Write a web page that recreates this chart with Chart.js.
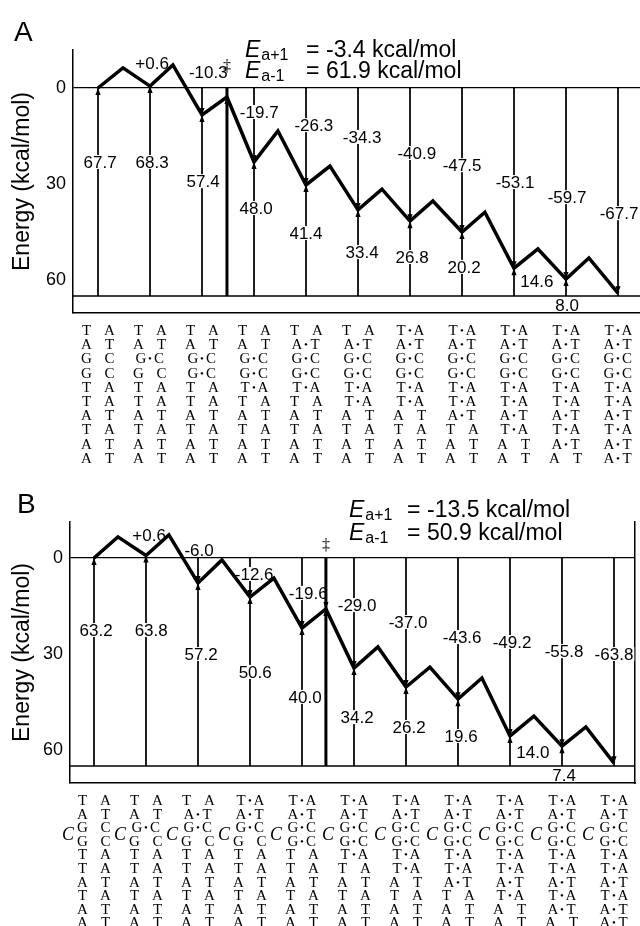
<!DOCTYPE html>
<html>
<head>
<meta charset="utf-8">
<title>Energy profiles A and B</title>
<script src="https://cdn.jsdelivr.net/npm/chart.js@4.4.1/dist/chart.umd.min.js"></script>
<style>
  html, body { margin: 0; padding: 0; background: #fff; }
  canvas { display: block; }
</style>
</head>
<body>
<canvas id="panelA" width="640" height="470"></canvas>
<canvas id="panelB" width="640" height="456"></canvas>
<script>
// energies in kcal/mol; states sit on whole numbers, barriers in between
const energyTicks = [0, -30, -60];

// panel A
const pathXA = [0, 0.48, 1, 1.44, 2, 2.48, 3, 3.46, 4, 4.46, 5, 5.46, 6, 6.44, 7, 7.44, 8, 8.46, 9, 9.44, 10];
const pathYA = [0, 6.3, 0.6, 7.2, -8.4, -2.8, -23.1, -13.4, -30.3, -24.4, -38.1, -31.6, -41.6, -35.3, -45.0, -38.8, -56.3, -50.3, -59.7, -53.1, -64.1];
const tsXA = 2.48;
const baseA = -65;
const topTextA = ['+0.6', '-10.3', '-19.7', '-26.3', '-34.3', '-40.9', '-47.5', '-53.1', '-59.7', '-67.7'];
const gapTextA = ['67.7', '68.3', '57.4', '48.0', '41.4', '33.4', '26.8', '20.2', '14.6', '8.0'];
const rateTextA = ['-3.4', '61.9'];

// panel B
const pathXB = [0, 0.46, 1, 1.44, 2, 2.46, 3, 3.46, 4, 4.46, 5, 5.46, 6, 6.46, 7, 7.46, 8, 8.46, 9, 9.46, 10];
const pathYB = [0, 6.6, 0.8, 7.2, -7.8, -0.6, -12.2, -6.3, -21.9, -15.9, -34.4, -27.8, -40.3, -34.1, -44.1, -37.5, -55.6, -49.4, -58.8, -52.8, -64.1];
const tsXB = 4.46;
const baseB = -65;
const topTextB = ['+0.6', '-6.0', '-12.6', '-19.6', '-29.0', '-37.0', '-43.6', '-49.2', '-55.8', '-63.8'];
const gapTextB = ['63.2', '63.8', '57.2', '50.6', '40.0', '34.2', '26.2', '19.6', '14.0', '7.4'];
const rateTextB = ['-13.5', '50.9'];

// duplex rows, top to bottom, and the first column where each row is paired
const strandLeft = ['T', 'A', 'G', 'G', 'T', 'T', 'A', 'T', 'A', 'A'];
const strandRight = ['A', 'T', 'C', 'C', 'A', 'A', 'T', 'A', 'T', 'T'];
const pairedFromA = [6, 4, 1, 2, 3, 5, 7, 8, 9, 10];
const pairedFromB = [3, 2, 1, 4, 5, 6, 7, 8, 9, 10];

// label anchors (axis units)
const topPosA = { x: [1.04, 2.12, 3.10, 4.15, 5.08, 6.13, 7.00, 8.02, 9.02, 10.02], y: [7.8, 5.0, -7.5, -11.6, -15.3, -20.3, -24.1, -29.4, -34.1, -39.1] };
const gapPosA = { x: [0.04, 1.04, 2.02, 3.04, 4.0, 5.08, 6.04, 7.04, 8.44, 9.02], y: [-23.1, -23.1, -29.1, -37.5, -45.3, -51.25, -52.8, -55.9, -60.3, -67.8] };
const topPosB = { x: [1.06, 2.02, 3.08, 4.12, 5.06, 6.04, 7.08, 8.04, 9.04, 10.0], y: [7.2, 2.5, -5.0, -10.9, -14.7, -20.0, -24.7, -26.25, -29.1, -30.0] };
const gapPosB = { x: [0.04, 1.1, 2.06, 3.1, 4.06, 5.06, 6.06, 7.06, 8.44, 9.04], y: [-22.5, -22.5, -30, -35.6, -43.4, -49.7, -52.8, -55.6, -60.6, -67.8] };

const sans = '"Liberation Sans", Arial, Helvetica, sans-serif';
const serif = '"Liberation Serif", "Times New Roman", serif';
Chart.defaults.font.family = sans;
Chart.defaults.color = '#000';

function labelSpots(chart, d) {
  const xs = chart.scales.x, ys = chart.scales.y;
  const zero = ys.getPixelForValue(0);
  const spots = [];
  d.topText.forEach((t, i) => spots.push({ t, x: xs.getPixelForValue(d.topPos.x[i]), y: ys.getPixelForValue(d.topPos.y[i]) }));
  d.gapText.forEach((t, i) => spots.push({ t, x: xs.getPixelForValue(d.gapPos.x[i]), y: ys.getPixelForValue(d.gapPos.y[i]) }));
  spots.forEach(s => { s.bg = s.y > zero + 6; });
  return spots;
}

function drawRate(ctx, r, line, sub, val) {
  const y = r.base[line];
  ctx.textAlign = 'left';
  ctx.textBaseline = 'alphabetic';
  ctx.font = 'italic 23px ' + sans;
  ctx.fillText('E', r.eLeft, y);
  const ew = ctx.measureText('E').width;
  ctx.font = '16px ' + sans;
  ctx.fillText(sub, r.eLeft + ew + 1, y + 3);
  ctx.font = '23px ' + sans;
  ctx.fillText('=', r.eqLeft, y);
  ctx.fillText(val + ' kcal/mol', r.valLeft, y);
}

function panelPlugin(d) {
  return {
    id: 'panel' + d.letter,
    beforeDatasetDraw(chart, args) {
      // white gaps in the vertical lines, under the thick lines
      if (args.index !== 1) return;
      const ctx = chart.ctx;
      ctx.save();
      ctx.font = '17px ' + sans;
      ctx.fillStyle = '#fff';
      labelSpots(chart, d).forEach(s => {
        if (!s.bg) return;
        const w = ctx.measureText(s.t).width;
        ctx.fillRect(s.x - w / 2 - 1, s.y - 7, w + 2, 14);
      });
      ctx.restore();
    },
    afterDatasetsDraw(chart) {
      const ctx = chart.ctx;
      const xs = chart.scales.x, ys = chart.scales.y;
      const zero = ys.getPixelForValue(0);
      const base = ys.getPixelForValue(d.base);
      ctx.save();
      ctx.fillStyle = '#000';
      // arrowheads at each state
      d.pathX.forEach((x, i) => {
        if (!Number.isInteger(x) && x !== d.tsX) return;
        const px = xs.getPixelForValue(x), py = ys.getPixelForValue(d.pathY[i]);
        ctx.beginPath();
        if (base - py > 10) {
          ctx.moveTo(px, py); ctx.lineTo(px - 2.6, py + 7); ctx.lineTo(px + 2.6, py + 7); ctx.closePath();
        }
        if (py - zero > 10) {
          ctx.moveTo(px, py); ctx.lineTo(px - 2.6, py - 7); ctx.lineTo(px + 2.6, py - 7); ctx.closePath();
        }
        ctx.fill();
      });
      // energy labels
      ctx.font = '17px ' + sans;
      ctx.textAlign = 'center';
      ctx.textBaseline = 'alphabetic';
      labelSpots(chart, d).forEach(s => ctx.fillText(s.t, s.x, s.y + 6));
      ctx.restore();
    },
    afterDraw(chart) {
      const ctx = chart.ctx;
      const xs = chart.scales.x, ys = chart.scales.y;
      const area = chart.chartArea;
      ctx.save();
      ctx.fillStyle = '#000';
      // panel letter
      ctx.font = '28px ' + sans;
      ctx.textAlign = 'left';
      ctx.textBaseline = 'alphabetic';
      ctx.fillText(d.letter, d.letterPos[0], d.letterPos[1]);
      // rate constants
      drawRate(ctx, d.rate, 0, 'a+1', d.rateText[0]);
      drawRate(ctx, d.rate, 1, 'a-1', d.rateText[1]);
      // transition state mark
      ctx.font = '16px ' + serif;
      ctx.textAlign = 'center';
      ctx.textBaseline = 'middle';
      ctx.fillText('\u2021', xs.getPixelForValue(d.tsX), ys.getPixelForValue(0) - d.tsMarkRise);
      // duplex under every state
      ctx.textBaseline = 'alphabetic';
      const row0 = area.bottom + 17;
      for (let c = 0; c <= 10; c++) {
        const cx = xs.getPixelForValue(c);
        for (let r = 0; r < strandLeft.length; r++) {
          const y = row0 + r * d.rowGap + 5;
          const paired = c >= d.pairedFrom[r];
          const off = paired ? 9 : 11.5;
          ctx.font = '15px ' + serif;
          ctx.fillText(strandLeft[r], cx - off, y);
          ctx.fillText(strandRight[r], cx + off, y);
          if (paired) {
            ctx.font = '11px ' + serif;
            ctx.fillText('\u2022', cx, y - 1);
          }
        }
        if (d.crossLink) {
          ctx.font = 'italic 18px ' + serif;
          ctx.fillText('C', cx - 26, row0 + 2.5 * d.rowGap + 6);
        }
      }
      ctx.restore();
    }
  };
}

function drawPanel(id, d) {
  const verticals = [];
  for (let i = 0; i <= 10; i++) {
    verticals.push({ x: i, y: 0 }, { x: i, y: d.base }, { x: i + 0.5, y: null });
  }
  const scales = {
    x: {
      type: 'linear', min: d.xMin, max: d.xMax,
      ticks: { display: false },
      grid: { display: false, drawTicks: false },
      border: { display: true, color: '#000', width: 1.5 },
      afterFit: s => { s.height = 0; }
    },
    y: {
      type: 'linear', min: d.yMin, max: d.yMax,
      afterBuildTicks: s => { s.ticks = energyTicks.map(v => ({ value: v })); },
      ticks: { callback: v => String(Math.abs(v)), font: { size: 18 }, padding: 7, color: '#000' },
      grid: {
        drawTicks: false, lineWidth: 1.3,
        color: c => (c.tick && c.tick.value === 0 ? '#000' : 'rgba(0,0,0,0)')
      },
      border: { color: '#000', width: 1.5 },
      title: { display: true, text: 'Energy (kcal/mol)', font: { size: 23 }, color: '#000', padding: { top: 9, bottom: 0 } },
      afterFit: s => { s.width = d.axisWidth; }
    }
  };
  if (d.rightFrame) {
    scales.yR = {
      type: 'linear', position: 'right', display: true,
      ticks: { display: false },
      grid: { display: false, drawTicks: false },
      border: { color: '#000', width: 1.5 },
      afterFit: s => { s.width = 0; }
    };
  }
  return new Chart(document.getElementById(id), {
    type: 'line',
    data: {
      datasets: [
        { data: d.pathX.map((x, i) => ({ x, y: d.pathY[i] })), borderColor: '#000', borderWidth: 3.5, pointRadius: 0, borderJoinStyle: 'miter', order: 0 },
        { data: [{ x: d.tsX, y: 0 }, { x: d.tsX, y: d.base }], borderColor: '#000', borderWidth: 3, pointRadius: 0, order: 1 },
        { data: [{ x: d.xMin, y: d.base }, { x: d.xMax, y: d.base }], borderColor: '#000', borderWidth: 1.5, pointRadius: 0, order: 2 },
        { data: verticals, borderColor: '#000', borderWidth: 1, pointRadius: 0, spanGaps: false, order: 3 }
      ]
    },
    options: {
      responsive: false,
      animation: false,
      events: [],
      layout: { padding: { top: d.padTop, bottom: d.padBottom, left: 0, right: d.padRight } },
      plugins: { legend: { display: false }, tooltip: { enabled: false } },
      scales
    },
    plugins: [panelPlugin(d)]
  });
}

drawPanel('panelA', {
  letter: 'A', letterPos: [14, 41],
  pathX: pathXA, pathY: pathYA, tsX: tsXA, base: baseA,
  topText: topTextA, gapText: gapTextA, topPos: topPosA, gapPos: gapPosA,
  rateText: rateTextA, rate: { eLeft: 245, eqLeft: 306, valLeft: 326, base: [57, 78] },
  pairedFrom: pairedFromA, rowGap: 14.2, crossLink: false,
  xMin: -0.481, xMax: 10.423, yMin: -70.3, yMax: 11.875,
  axisWidth: 73, padTop: 50, padBottom: 157, padRight: 0, rightFrame: false, tsMarkRise: 21
});

drawPanel('panelB', {
  letter: 'B', letterPos: [17, 43],
  pathX: pathXB, pathY: pathYB, tsX: tsXB, base: baseB,
  topText: topTextB, gapText: gapTextB, topPos: topPosB, gapPos: gapPosB,
  rateText: rateTextB, rate: { eLeft: 349, eqLeft: 407, valLeft: 427, base: [47, 70] },
  pairedFrom: pairedFromB, rowGap: 13.6, crossLink: true,
  xMin: -0.4615, xMax: 10.404, yMin: -70.3, yMax: 11.25,
  axisWidth: 70, padTop: 52, padBottom: 143, padRight: 5, rightFrame: true, tsMarkRise: 12
});
</script>
</body>
</html>
